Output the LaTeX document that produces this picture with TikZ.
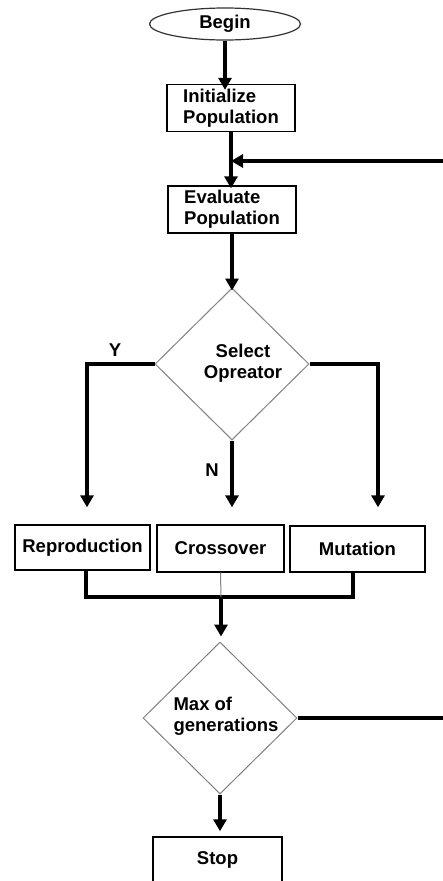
\documentclass[tikz,border=0pt]{standalone}
\usepackage{fontspec}
\setmainfont{Liberation Sans}
\usetikzlibrary{arrows.meta,shapes,positioning}

\begin{document}
\begin{tikzpicture}[x=1pt,y=-1pt,
    every node/.style={font=\bfseries\fontsize{18.5}{21}\selectfont},
    box/.style={draw,line width=1.4pt,minimum width=128pt,minimum height=47pt,inner sep=2pt},
    dia/.style={draw=gray,line width=1pt,diamond,inner sep=0pt,minimum width=154pt,minimum height=152pt},
    flow/.style={line width=3.5pt},
    >={Triangle[width=13pt,length=12pt]}]
  \useasboundingbox (0,0) rectangle (443,881);
      \node[draw=black!80,line width=1.2pt,ellipse,minimum width=151pt,minimum height=32pt,inner sep=0pt] (Bg) at (225,24) {Begin};
        \node[box,align=left] (Init) at (231,108) {Initialize\\Population};
        \draw [flow] [->] (Bg.south) to ([yshift=-6pt]Bg.south |- Init.north);
        \node[box,align=left] (Eval) at (232,209.5) {Evaluate\\Population};
        \draw [flow] [->] (Init.south) to ([yshift=-3pt]Init.south |- Eval.north);
      \coordinate (FB) at (443,161);
      \draw [flow] [->] (FB) -- (Init.south |- FB);

      \node[dia] (Sel) at (232,364) {};
      \node[align=center] (SelT) at (243,363) {Select\\Opreator};
      \draw [flow] [->] (Eval.south) to ([yshift=-3pt]Eval.south |- Sel.north);

        \node[box,minimum width=135pt,minimum height=45pt] (Rep) at (82.5,547.5) {Reproduction};
        \node[box,minimum width=127pt] (Cross) at (220.5,548.5) {Crossover};
        \node[box,minimum width=135pt,minimum height=46pt] (Mut) at (357.5,549) {Mutation};
      \draw [flow,shorten >=17pt] [->] (Sel.west) -| ([xshift=4.5pt]Rep.north);
      \draw [flow,shorten >=17pt] [->] (Sel.south) -- (Sel.south |- Cross.north);
      \draw [flow,shorten >=18pt] [->] (Sel.east) -| ([xshift=20.5pt]Mut.north);
      \node (Y) at (115,350) {Y};
      \node (N) at (212,470) {N};

      \coordinate (Bus) at (221,597);
      \draw [flow] ([xshift=3.5pt]Rep.south) |- (Bus) -| ([xshift=-4.5pt]Mut.south);
      \draw [gray,line width=1pt] (Cross.south) -- (Bus);

        \node[dia] (Max) at (220,718) {};
        \node[align=left] (MaxT) at (226,716) {Max of\\generations};
        \draw [flow,shorten >=5pt] [->] (Bus) -- (Bus |- Max.north);
      \coordinate (ME) at (443,718);
      \draw [flow] (Max.east) -- (ME);

        \node[box,minimum width=129pt,minimum height=46pt] (Stop) at (217.5,860) {Stop};
        \draw [flow,shorten >=5pt] [->] (Max.south) -- (Max.south |- Stop.north);
    \end{tikzpicture}
\end{document}
